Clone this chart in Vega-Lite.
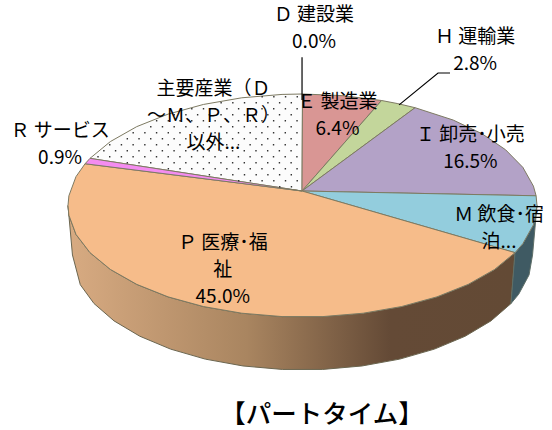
{
"$schema":"https://vega.github.io/schema/vega-lite/v6.json",
"width":552,"height":430,"padding":0,"autosize":"none","background":"white",
"title":{"text":"【パートタイム】","orient":"bottom","anchor":"middle","offset":-27,"dx":46,"font":"Noto Sans CJK JP","fontSize":25.5,"fontWeight":500,"color":"#000000"},
"projection":{"type":"identity","reflectY":true,"scale":2.345,"translate":[302.5,205.5]},
"layer":[
{"data":{"values":[{"type":"Feature","properties":{"name":"P side"},"geometry":{"type":"Polygon","coordinates":[[[90.63,-20.10],[81.92,-27.27],[70.71,-33.62],[57.36,-38.95],[42.26,-43.09],[25.88,-45.93],[8.72,-47.37],[-8.72,-47.37],[-25.88,-45.93],[-42.26,-43.09],[-57.36,-38.95],[-70.71,-33.62],[-81.92,-27.27],[-90.63,-20.10],[-96.59,-12.31],[-99.62,-4.14],[-100,0],[-98.1,-21.1],[-94.76,-33.78],[-88.91,-41.81],[-80.36,-49.21],[-69.37,-55.75],[-56.27,-61.24],[-41.46,-65.51],[-25.39,-68.43],[-8.55,-69.91],[8.55,-69.91],[25.39,-68.43],[41.46,-65.51],[56.27,-61.24],[69.37,-55.75],[80.36,-49.21],[88.91,-41.81],[90.63,-20.10]]]}}]},
"mark":{"type":"geoshape","stroke":"#6b6650","strokeWidth":1,"fill":{"gradient":"linear","x1":0,"y1":0,"x2":1,"y2":0,"stops":[{"offset":0,"color":"#D8AB82"},{"offset":0.4,"color":"#A98560"},{"offset":0.72,"color":"#644A36"},{"offset":1,"color":"#634A35"}]}}},
{"data":{"values":[{"type":"Feature","properties":{"name":"M side"},"geometry":{"type":"Polygon","coordinates":[[[100,0],[98.48,-8.26],[93.97,-16.26],[90.63,-20.10],[88.91,-41.81],[92.18,-37.86],[96.61,-29.61],[98.1,-21.1],[100,0]]]}}]},
"mark":{"type":"geoshape","stroke":"#5f6f68","strokeWidth":1,"fill":"#3F5A63"}},
{"data":{"values":[
{"type":"Feature","properties":{"name":"主要産業","share":18.2},"geometry":{"type":"Polygon","coordinates":[[[-0.2,6.18],[-90.63,20.10],[-81.92,27.27],[-70.71,33.62],[-57.36,38.95],[-42.26,43.09],[-25.88,45.93],[-8.72,47.37],[0,47.55],[-0.2,6.18]]]}},
{"type":"Feature","properties":{"name":"E 製造業","share":6.4},"geometry":{"type":"Polygon","coordinates":[[[-0.2,6.18],[0,47.55],[17.36,46.83],[33.71,44.77],[-0.2,6.18]]]}},
{"type":"Feature","properties":{"name":"H 運輸業","share":2.8},"geometry":{"type":"Polygon","coordinates":[[[-0.2,6.18],[33.71,44.77],[40.67,43.44],[48.02,41.71],[-0.2,6.18]]]}},
{"type":"Feature","properties":{"name":"I 卸売・小売","share":16.5},"geometry":{"type":"Polygon","coordinates":[[[-0.2,6.18],[48.02,41.71],[64.28,36.43],[76.60,30.56],[86.60,23.78],[93.97,16.26],[98.48,8.26],[99.62,4.14],[-0.2,6.18]]]}},
{"type":"Feature","properties":{"name":"M 飲食・宿泊","share":10.2},"geometry":{"type":"Polygon","coordinates":[[[-0.2,6.18],[99.62,4.14],[100,0],[98.48,-8.26],[93.97,-16.26],[90.63,-20.10],[-0.2,6.18]]]}},
{"type":"Feature","properties":{"name":"P 医療・福祉","share":45.0},"geometry":{"type":"Polygon","coordinates":[[[-0.2,6.18],[90.63,-20.10],[81.92,-27.27],[70.71,-33.62],[57.36,-38.95],[42.26,-43.09],[25.88,-45.93],[8.72,-47.37],[-8.72,-47.37],[-25.88,-45.93],[-42.26,-43.09],[-57.36,-38.95],[-70.71,-33.62],[-81.92,-27.27],[-90.63,-20.10],[-96.59,-12.31],[-99.62,-4.14],[-100,0],[-99.62,4.14],[-96.59,12.31],[-92.72,17.81],[-0.2,6.18]]]}},
{"type":"Feature","properties":{"name":"R サービス","share":0.9},"geometry":{"type":"Polygon","coordinates":[[[-0.2,6.18],[-92.72,17.81],[-90.63,20.10],[-0.2,6.18]]]}}
]},
"mark":{"type":"geoshape","stroke":"#7d7a62","strokeWidth":1},
"encoding":{"color":{"field":"properties.name","type":"nominal","legend":null,"scale":{"domain":["主要産業","E 製造業","H 運輸業","I 卸売・小売","M 飲食・宿泊","P 医療・福祉","R サービス"],"range":["#FCFCFC","#D99694","#C3D69B","#B3A2C7","#93CDDD","#F6BC8A","#F48CF0"]}}}},
{"data":{"values":[{"type":"Feature","properties":{"name":"dots"},"geometry":{"type":"MultiLineString","coordinates":[[[-10,8],[-0.8,8]],[[-27.5,10.56],[-0.8,10.56]],[[-40,13.12],[-0.8,13.12]],[[-57.5,15.68],[-0.8,15.68]],[[-75,18.24],[-0.8,18.24]],[[-87.5,20.8],[-0.8,20.8]],[[-85,23.36],[-0.8,23.36]],[[-82.5,25.92],[-0.8,25.92]],[[-75,28.48],[-0.8,28.48]],[[-72.5,31.04],[-0.8,31.04]],[[-65,33.6],[-0.8,33.6]],[[-62.5,36.16],[-0.8,36.16]],[[-55,38.72],[-0.8,38.72]],[[-47.5,41.28],[-0.8,41.28]],[[-35,43.84],[-0.8,43.84]],[[-17.5,46.4],[-0.8,46.4]]]}}]},
"mark":{"type":"geoshape","filled":false,"stroke":"#333333","strokeWidth":1.4,"strokeDash":[1.4,10.3]}},
{"data":{"values":[{"type":"Feature","properties":{"name":"D leader"},"geometry":{"type":"LineString","coordinates":[[-0.2,63.2],[-0.2,45]]}},{"type":"Feature","properties":{"name":"H leader"},"geometry":{"type":"LineString","coordinates":[[62.9,56.5],[57.8,56.5],[41.2,42.9]]}}]},
"mark":{"type":"geoshape","filled":false,"stroke":"#000000","strokeWidth":1.2}},
{"data":{"values":[
{"label":"Ｄ 建設業\n0.0%","lon":4.9,"lat":81.06},
{"label":"Ｈ 運輸業\n2.8%","lon":73.6,"lat":71.66},
{"label":"Ｅ 製造業\n6.4%","lon":14.9,"lat":44.16},
{"label":"Ｉ 卸売･小売\n16.5%","lon":71.6,"lat":30.06},
{"label":"Ｍ 飲食･宿\n泊...","lon":83.8,"lat":-3.84},
{"label":"Ｐ 医療･福\n祉\n45.0%","lon":-34,"lat":-16.2},
{"label":"主要産業（Ｄ\n〜Ｍ、Ｐ、Ｒ）\n以外...","lon":-38,"lat":49.5},
{"label":"Ｒ サービス\n0.9%","lon":-103.4,"lat":31.76}
]},
"mark":{"type":"text","font":"Noto Sans CJK JP","fontSize":19,"lineBreak":"\n","lineHeight":27,"align":"center","baseline":"middle","color":"#000000"},
"encoding":{"longitude":{"field":"lon","type":"quantitative"},"latitude":{"field":"lat","type":"quantitative"},"text":{"field":"label","type":"nominal"}}}
]
}
